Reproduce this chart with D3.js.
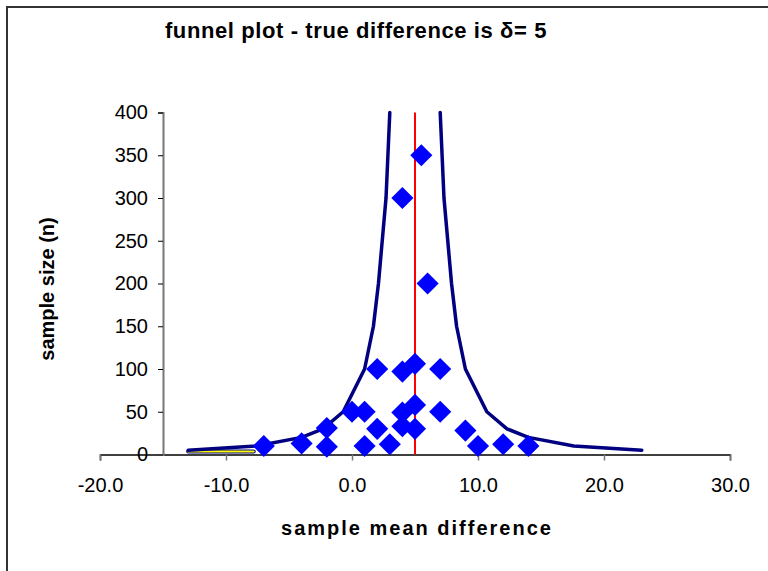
<!DOCTYPE html>
<html>
<head>
<meta charset="utf-8">
<script src="https://cdn.jsdelivr.net/npm/d3@7"></script>
<style>
  body { margin: 0; background: #fff; }
  text { font-family: "Liberation Sans", Arial, sans-serif; fill: #000; }
</style>
</head>
<body>
<svg id="funnel" width="768" height="571"></svg>
<script>
// funnel limits (sample size vs limit)
const funnelN = [5, 10, 20, 30, 50, 100, 150, 200, 300, 400];
const lowerLimit = [-13.0, -7.6, -4.0, -2.3, -0.7, 1.0, 1.7, 2.1, 2.7, 3.0];
const upperLimit = [23.0, 17.6, 14.0, 12.3, 10.7, 9.0, 8.3, 7.9, 7.3, 7.0];

// little yellow series tucked under the left tail
const yellowX = [-13.0, -7.8];
const yellowN = [3.5, 3.5];

// the studies (mean difference, sample size)
const studyDiff = [-7, -4, -2, -2, 0, 1, 1, 2, 2, 3, 4, 4, 4, 4, 5, 5, 5, 5.5, 6, 7, 7, 9, 10, 12, 14];
const studyN = [10, 13, 9, 31, 50, 50, 10, 30, 100, 12, 97, 49, 33, 300, 106, 58, 30, 350, 200, 100, 50, 28, 10, 12, 10];

const trueDelta = 5;
const xTicks = [-20, -10, 0, 10, 20, 30];
const yTicks = [0, 50, 100, 150, 200, 250, 300, 350, 400];

const svg = d3.select("#funnel");

// outer frame (only top and left edges show in the picture)
svg.append("rect")
    .attr("x", 7).attr("y", 7)
    .attr("width", 800).attr("height", 600)
    .attr("fill", "none")
    .attr("stroke", "#333")
    .attr("stroke-width", 2);

const x = d3.scaleLinear().domain([-20, 30]).range([100, 730]);
const y = d3.scaleLinear().domain([0, 400]).range([454.5, 112.5]);

// x axis
const xAxis = svg.append("g")
    .attr("transform", `translate(0,${y(0)})`)
    .call(d3.axisBottom(x)
        .tickValues(xTicks)
        .tickSizeOuter(0)
        .tickSize(6)
        .tickPadding(17)
        .tickFormat(d => d.toFixed(1)));
xAxis.select(".domain").attr("stroke", "#000").attr("stroke-width", 1.5);
xAxis.selectAll(".tick line").attr("stroke", "#777").attr("stroke-width", 1.5);
xAxis.selectAll("text").style("font-size", "20px");

// y axis crosses at -15
const yAxis = svg.append("g")
    .attr("transform", `translate(${x(-15)},0)`)
    .call(d3.axisLeft(y)
        .tickValues(yTicks)
        .tickSizeOuter(0)
        .tickSize(5)
        .tickPadding(10));
yAxis.select(".domain").attr("stroke", "#777").attr("stroke-width", 2);
yAxis.selectAll(".tick line").attr("stroke", "#000");
yAxis.selectAll("text").style("font-size", "20px");

// true difference
svg.append("line")
    .attr("x1", x(trueDelta)).attr("x2", x(trueDelta))
    .attr("y1", y(0)).attr("y2", y(400))
    .attr("stroke", "#ff0000")
    .attr("stroke-width", 2);

const line = d3.line().x(d => x(d[0])).y(d => y(d[1]));

// yellow series with its dark edge
const yellowPts = yellowX.map((v, i) => [v, yellowN[i]]);
svg.append("path")
    .datum(yellowPts)
    .attr("d", line)
    .attr("fill", "none")
    .attr("stroke", "#000080")
    .attr("stroke-width", 4)
    .attr("stroke-linecap", "round");
svg.append("path")
    .datum(yellowPts)
    .attr("d", line)
    .attr("fill", "none")
    .attr("stroke", "#ffff00")
    .attr("stroke-width", 2)
    .attr("stroke-linecap", "round");

// funnel limits
[lowerLimit, upperLimit].forEach(lim => {
    svg.append("path")
        .datum(funnelN.map((n, i) => [lim[i], n]))
        .attr("d", line)
        .attr("fill", "none")
        .attr("stroke", "#000080")
        .attr("stroke-width", 3.5)
        .attr("stroke-linejoin", "round")
        .attr("stroke-linecap", "round");
});

// study markers
const diamond = d3.symbol().type(d3.symbolSquare).size(245);
svg.append("g")
    .selectAll("path")
    .data(studyDiff.map((v, i) => [v, studyN[i]]))
    .enter()
    .append("path")
    .attr("d", diamond)
    .attr("transform", d => `translate(${x(d[0])},${y(d[1])}) rotate(45)`)
    .attr("fill", "#0000ff");

// title
svg.append("text")
    .attr("x", 356)
    .attr("y", 38)
    .attr("text-anchor", "middle")
    .style("font-size", "22px")
    .style("font-weight", "bold")
    .style("letter-spacing", "0.6px")
    .text("funnel plot - true difference is δ= 5");

// x axis title
svg.append("text")
    .attr("x", 417)
    .attr("y", 535)
    .attr("text-anchor", "middle")
    .style("font-size", "20px")
    .style("font-weight", "bold")
    .style("letter-spacing", "2px")
    .text("sample mean difference");

// y axis title
svg.append("text")
    .attr("transform", "translate(54,289) rotate(-90)")
    .attr("text-anchor", "middle")
    .style("font-size", "20px")
    .style("font-weight", "bold")
    .text("sample size (n)");
</script>
</body>
</html>
